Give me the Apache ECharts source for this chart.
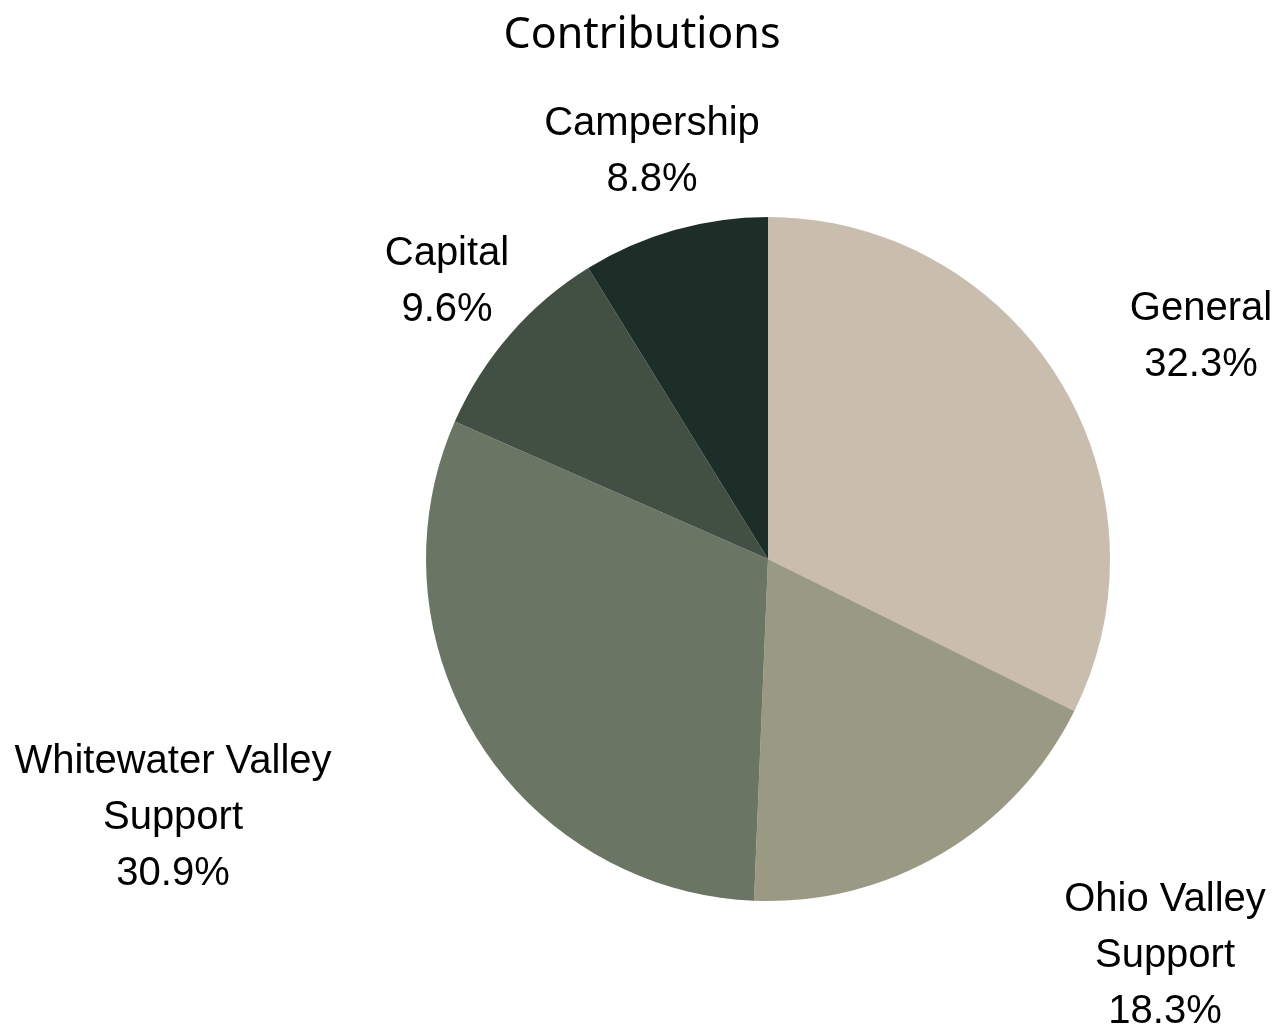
<!DOCTYPE html>
<html>
<head>
<meta charset="utf-8">
<script src="https://cdn.jsdelivr.net/npm/echarts@6/dist/echarts.min.js"></script>
<style>body{margin:0;background:#fff}</style>
</head>
<body>
<div id="main" style="width:1284px;height:1024px;"></div>
<script type="text/javascript">
// data
var categories = ['General', 'Ohio Valley\nSupport', 'Whitewater Valley\nSupport', 'Capital', 'Campership'];
var shares = [32.3, 18.3, 30.9, 9.6, 8.8];
var colors = ['#C9BDAD', '#9A9A84', '#6B7564', '#424F43', '#1D2E29'];

// where each label block sits (its centre), like the original best-fit labels
var labelSpots = [[1201, 337], [1165, 956], [173, 818], [447, 282], [652, 152]];

var myChart = echarts.init(document.getElementById('main'));

var pieData = categories.map(function (name, i) {
    return { name: name, value: shares[i], itemStyle: { color: colors[i] } };
});

var option = {
    animation: false,
    title: {
        text: 'Contributions',
        left: 'center',
        top: 9,
        textStyle: { fontFamily: 'Noto Sans', fontSize: 43, fontWeight: 'normal', color: '#000' }
    },
    series: [{
        type: 'pie',
        center: [768, 559],
        radius: 342,
        startAngle: 90,
        clockwise: true,
        data: pieData,
        label: {
            show: true,
            position: 'outside',
            formatter: function (p) { return p.name + '\n' + p.value.toFixed(1) + '%'; },
            fontFamily: 'Liberation Sans',
            fontSize: 40,
            lineHeight: 56,
            color: '#000',
            width: 400,
            overflow: 'none'
        },
        labelLine: { show: false },
        labelLayout: function (params) {
            var s = labelSpots[params.dataIndex];
            return { x: s[0], y: s[1], align: 'center', verticalAlign: 'middle' };
        }
    }]
};

myChart.setOption(option);
</script>
</body>
</html>
